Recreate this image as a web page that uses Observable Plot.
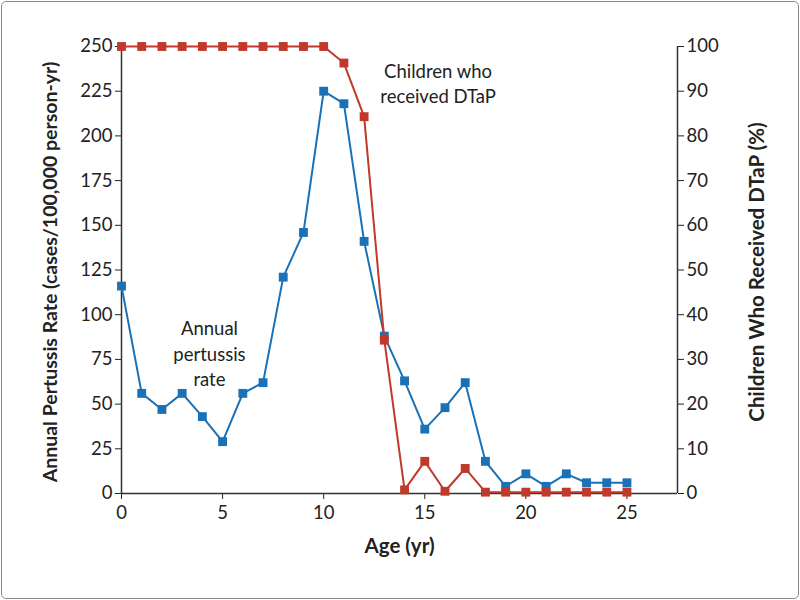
<!DOCTYPE html>
<html><head><meta charset="utf-8">
<script src="https://cdn.jsdelivr.net/npm/d3@7"></script>
<script src="https://cdn.jsdelivr.net/npm/@observablehq/plot@0.6"></script>
<style>
body{margin:0;background:#fff;}
#wrap{position:relative;width:800px;height:600px;overflow:hidden;}
#frame{position:absolute;left:1px;top:1px;right:1px;bottom:1px;border:1.5px solid #8c8c8c;border-radius:5px;pointer-events:none;box-sizing:border-box}
</style></head><body>
<div id="wrap"><div id="chart"></div><div id="frame"></div></div>
<script>
const ages = [0,1,2,3,4,5,6,7,8,9,10,11,12,13,14,15,16,17,18,19,20,21,22,23,24,25];
const pertussisRate = [116,56,47,56,43,29,56,62,121,146,225,218,141,88,63,36,48,62,18,4,11,4,11,6,6,6];
const dtapPercent = [100,100,100,100,100,100,100,100,100,100,100,96.3,84.3,34.3,0.8,7.2,0.5,5.6,0.3,0.3,0.3,0.3,0.3,0.3,0.3,0.3];
const leftTicks = [0,25,50,75,100,125,150,175,200,225,250];
const rightTicks = [0,10,20,30,40,50,60,70,80,90,100];
const xTicks = [0,5,10,15,20,25];
const annotations = [
  {age: 15.66, rate: 230, text: "Children who\nreceived DTaP"},
  {age: 4.35, rate: 79, text: "Annual\npertussis\nrate"}
];

const blue = "#1a71b6";
const red = "#c0392b";
const rateData = ages.map((a,i) => ({age:a, rate:pertussisRate[i]}));
const pctData = ages.map((a,i) => ({age:a, pct:dtapPercent[i]}));
const k = 250/100; // right axis maps 0–100% onto 0–250

const chart = Plot.plot({
  width: 800, height: 600,
  marginLeft: 121, marginRight: 123, marginTop: 46, marginBottom: 107,
  style: {fontFamily: "Lato, sans-serif", fontSize: "18px", color: "#222", background: "white"},
  x: {domain: [0, 27.5]},
  y: {domain: [0, 250]},
  marks: [
    Plot.axisY(leftTicks, {anchor: "left", tickSize: 6, tickPadding: 3, label: null, fontSize: 18.5}),
    Plot.axisY(rightTicks.map(d => d*k), {anchor: "right", tickSize: 6, tickPadding: 3, tickFormat: d => d/k, label: null, fontSize: 18.5}),
    Plot.axisX(xTicks, {tickSize: 6, tickPadding: 6, label: null, fontSize: 18.5}),
    Plot.ruleX([0, 27.5], {stroke: "#333", strokeWidth: 1.5}),
    Plot.ruleY([0], {stroke: "#333", strokeWidth: 1.5}),
    Plot.line(rateData, {x: "age", y: "rate", stroke: blue, strokeWidth: 2}),
    Plot.dot(rateData, {x: "age", y: "rate", symbol: "square", fill: blue, r: 5}),
    Plot.line(pctData, {x: "age", y: d => d.pct*k, stroke: red, strokeWidth: 2}),
    Plot.dot(pctData, {x: "age", y: d => d.pct*k, symbol: "square", fill: red, r: 5}),
    Plot.text(annotations, {x: "age", y: "rate", text: "text", fontSize: 18.5, lineHeight: 1.4, fill: "#222"}),
    Plot.text(["Annual Pertussis Rate (cases/100,000 person-yr)"], {frameAnchor: "left", textAnchor: "middle", dx: -71, dy: 2, rotate: -90, fontWeight: "bold", fontSize: 19.5, fill: "#222"}),
    Plot.text(["Children Who Received DTaP (%)"], {frameAnchor: "right", textAnchor: "middle", dx: 80, dy: 2, rotate: -90, fontWeight: "bold", fontSize: 20.5, fill: "#222"}),
    Plot.text(["Age (yr)"], {frameAnchor: "bottom", textAnchor: "middle", dy: 59, fontWeight: "bold", fontSize: 20.5, fill: "#222"})
  ]
});
document.getElementById("chart").appendChild(chart);
</script>
</body></html>
